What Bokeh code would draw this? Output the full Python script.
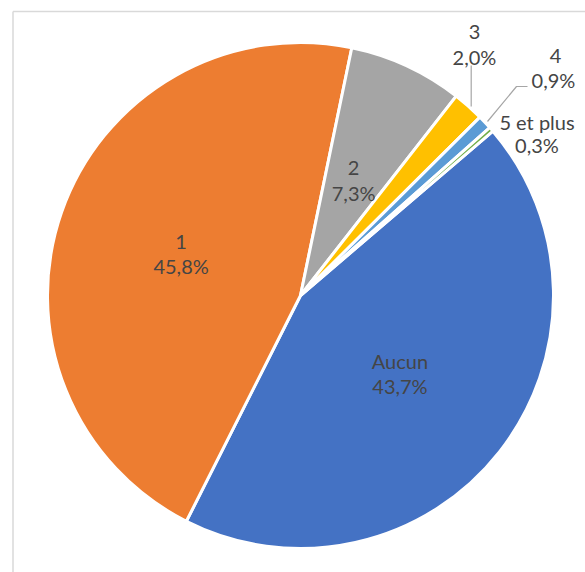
import math
from bokeh.plotting import figure
from bokeh.models import Range1d, ColumnDataSource
from bokeh.core.properties import value
from bokeh.embed import file_html
from bokeh.resources import INLINE

# ---- data ----
categories = ["Aucun", "1", "2", "3", "4", "5 et plus"]
shares = [43.7, 45.8, 7.3, 2.0, 0.9, 0.3]
colors = ["#4472C4", "#ED7D31", "#A5A5A5", "#FFC000", "#5B9BD5", "#70AD47"]

def fmt(v):
    return ("%.1f%%" % v).replace(".", ",")

pct_labels = [fmt(v) for v in shares]

# ---- layout ----
W, H = 585, 572
FONT = "Lato"
FS = "20px"
TXT = "#454545"

def px(X, Y):
    """reference-window pixel -> data coords"""
    return X, H - Y

p = figure(width=W, height=H, output_backend="svg", toolbar_location=None,
           x_range=Range1d(0, W), y_range=Range1d(0, H),
           x_axis_location=None, y_axis_location=None, min_border=0,
           outline_line_color=None, background_fill_color="white",
           border_fill_color="white")
p.xgrid.visible = False
p.ygrid.visible = False

# chart frame (top & left visible)
fx0, fy0 = px(12.5, 11)
p.segment(x0=[fx0, fx0], y0=[fy0, fy0], x1=[W, fx0], y1=[fy0, 0],
          line_color="#d9d9d9", line_width=1.5)

# pie
cx, cy = px(300, 295)
R = 253
start_from_north = 49.5
starts, ends = [], []
acc = 0.0
for s in shares:
    a0 = math.radians(90 - (start_from_north + acc * 3.6))
    acc += s
    a1 = math.radians(90 - (start_from_north + acc * 3.6))
    starts.append(a0)
    ends.append(a1)

src = ColumnDataSource(dict(cat=categories, share=shares, color=colors,
                            start=starts, end=ends))
p.wedge(x=cx, y=cy, radius=R, start_angle="start", end_angle="end",
        direction="clock", fill_color="color", line_color="white",
        line_width=3, source=src)

# inside labels (first three slices), placed at half radius on mid angle
LH = 24.5
for i in range(3):
    mid = (starts[i] + ends[i]) / 2
    lx = cx + 0.5 * R * math.cos(mid)
    ly = cy + 0.5 * R * math.sin(mid)
    p.text(x=[lx, lx], y=[ly + LH / 2, ly - LH / 2],
           text=[categories[i], pct_labels[i]],
           text_font=value(FONT), text_font_size=FS, text_color=TXT,
           text_align="center", text_baseline="middle")

# outside labels
outside = {3: [(474, 31.5), (474, 56)],
           4: [(555, 55.5), (553, 79.5)],
           5: [(536.5, 121), (536.5, 144.5)]}
for i, pos in outside.items():
    (x1, y1), (x2, y2) = px(*pos[0]), px(*pos[1])
    p.text(x=[x1, x2], y=[y1, y2], text=[categories[i], pct_labels[i]],
           text_font=value(FONT), text_font_size=FS, text_color=TXT,
           text_align="center", text_baseline="middle")

# leader lines
l3 = [px(470.7, 65), px(470.7, 106)]
l4 = [px(487, 121), px(516, 86), px(527, 86)]
p.multi_line(xs=[[a for a, b in l3], [a for a, b in l4]],
             ys=[[b for a, b in l3], [b for a, b in l4]],
             line_color="#a6a6a6", line_width=1.2)

open("out.html", "w").write(file_html(p, INLINE))
